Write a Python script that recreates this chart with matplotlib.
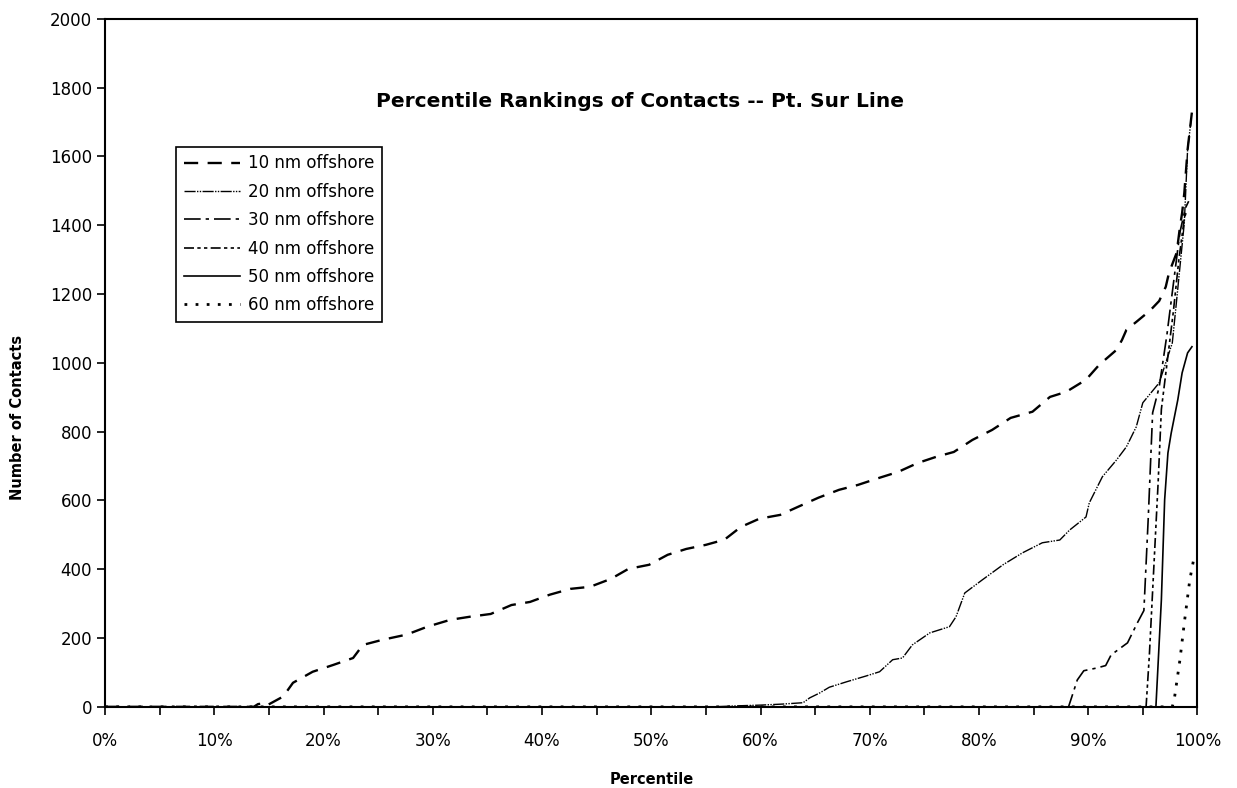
import matplotlib
matplotlib.use("Agg")
import matplotlib.pyplot as plt
from matplotlib.ticker import MultipleLocator, FuncFormatter

plt.rcParams['font.family'] = ['DejaVu Sans']

# percentile (%) / number of contacts
pct_10 = [0, 13.6, 14.0, 14.5, 14.8, 16.3, 17.2, 19.0, 20.9, 22.7, 23.6, 25.4, 27.6, 29.5,
          31.6, 33.4, 35.3, 37.2, 38.9, 40.7, 42.6, 44.4, 46.3, 47.9, 49.8, 51.5, 53.2,
          55.0, 56.7, 58.2, 59.9, 61.8, 63.4, 65.3, 67.2, 68.9, 70.9, 72.6, 74.4, 76.1,
          77.7, 79.4, 81.2, 82.9, 84.9, 86.5, 88.0, 89.8, 91.0, 92.6, 93.1, 93.5, 94.4,
          95.2, 95.9, 96.5, 97.1, 97.4, 98.1, 98.4, 98.6, 98.8, 99.1, 99.5]
nm_10 = [0, 0, 8, 10, 4, 30, 70, 102, 122, 142, 180, 195, 210, 233,
         253, 262, 270, 296, 305, 326, 343, 349, 372, 401, 413, 442, 459,
         471, 486, 523, 547, 558, 581, 608, 631, 645, 666, 683, 709, 727,
         741, 776, 805, 840, 858, 901, 916, 951, 994, 1038, 1067, 1096, 1119,
         1140, 1160, 1180, 1221, 1262, 1320, 1395, 1436, 1494, 1620, 1730]

pct_20 = [0, 55.6, 58.0, 60.0, 62.0, 63.9, 64.5, 65.4, 66.3, 67.9, 69.7, 70.9, 72.1, 73.0,
          73.9, 75.5, 77.3, 77.9, 78.7, 80.3, 82.2, 84.0, 85.8, 87.4, 88.3, 89.8, 90.1,
          91.3, 92.6, 93.5, 94.4, 95.0, 96.5, 97.7, 98.1, 98.8, 99.1, 99.4]
nm_20 = [0, 0, 3, 5, 8, 12, 26, 40, 57, 73, 90, 102, 137, 142,
         180, 215, 233, 262, 331, 369, 413, 448, 477, 485, 514, 552, 593,
         669, 718, 756, 814, 884, 942, 1058, 1183, 1407, 1620, 1700]

pct_30 = [0, 88.2, 88.5, 89.0, 89.6, 90.8, 91.6, 92.1, 93.6, 94.5, 95.1, 95.5, 95.9,
          96.5, 97.2, 97.8, 98.4, 98.9, 99.2]
nm_30 = [0, 0, 29, 78, 105, 113, 120, 151, 186, 244, 280, 550, 855,
         930, 1080, 1230, 1380, 1450, 1470]

pct_40 = [0, 95.3, 95.6, 96.0, 96.4, 96.7, 97.3, 97.8, 98.3, 98.8, 99.0]
nm_40 = [0, 0, 150, 400, 650, 865, 1020, 1150, 1300, 1420, 1440]

pct_50 = [0, 96.2, 96.7, 97.0, 97.3, 97.6, 98.2, 98.6, 99.1, 99.5]
nm_50 = [0, 0, 311, 602, 738, 796, 892, 971, 1029, 1047]

pct_60 = [0, 97.7, 97.9, 98.4, 98.8, 99.3, 99.7]
nm_60 = [0, 0, 26, 137, 244, 369, 436]

labels = ['10 nm offshore', '20 nm offshore', '30 nm offshore',
          '40 nm offshore', '50 nm offshore', '60 nm offshore']

styles = [
    ((0, (6, 4)), 1.7),
    ((0, (8, 1, 1, 1, 1, 1)), 1.0),
    ((0, (10, 3, 2, 3)), 1.2),
    ((0, (6, 2, 2, 2, 2, 2)), 1.2),
    ('-', 1.2),
    ((0, (1, 3)), 2.0),
]

series = [(pct_10, nm_10), (pct_20, nm_20), (pct_30, nm_30),
          (pct_40, nm_40), (pct_50, nm_50), (pct_60, nm_60)]

fig = plt.figure(figsize=(12.37, 7.88), dpi=100)
ax = fig.add_axes([0.085, 0.103, 0.883, 0.873])

for (x, y), lab, (ls, lw) in zip(series, labels, styles):
    ax.plot(x, y, color='black', linestyle=ls, linewidth=lw, label=lab)

ax.set_xlim(0, 100)
ax.set_ylim(0, 2000)
ax.xaxis.set_major_locator(MultipleLocator(10))
ax.xaxis.set_minor_locator(MultipleLocator(5))
ax.xaxis.set_major_formatter(FuncFormatter(lambda v, p: f'{v:.0f}%'))
ax.yaxis.set_major_locator(MultipleLocator(200))
ax.tick_params(axis='both', which='both', direction='out', length=6, width=1.2,
               labelsize=12, colors='black')
ax.tick_params(axis='x', pad=12)
for sp in ax.spines.values():
    sp.set_linewidth(1.5)

ax.set_xlabel('Percentile', fontsize=10.5, fontweight='bold', labelpad=16)
ax.set_ylabel('Number of Contacts', fontsize=10.5, fontweight='bold')
ax.yaxis.set_label_coords(-0.073, 0.42)

ax.text(0.49, 0.88, 'Percentile Rankings of Contacts -- Pt. Sur Line',
        transform=ax.transAxes, ha='center', va='center', fontsize=14.5, fontweight='bold')

leg = ax.legend(loc='upper left', bbox_to_anchor=(176 / 1237, 1 - 147 / 788),
                bbox_transform=fig.transFigure, borderaxespad=0, fontsize=12,
                handlelength=3.4, handletextpad=0.5, labelspacing=0.62,
                borderpad=0.45, fancybox=False, framealpha=1, edgecolor='black')
leg.get_frame().set_linewidth(1.2)

fig.savefig('out.png', dpi=100)
